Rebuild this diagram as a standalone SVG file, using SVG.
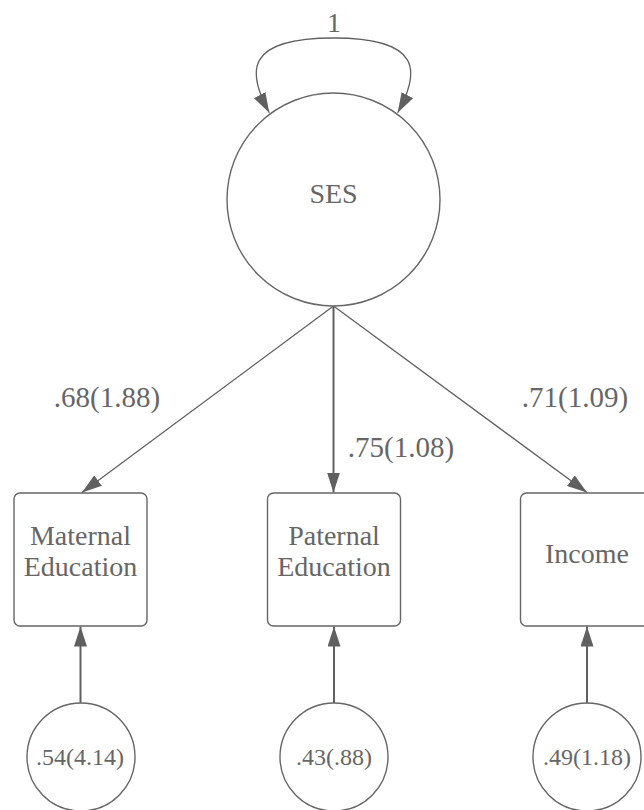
<svg xmlns="http://www.w3.org/2000/svg" width="644" height="810" viewBox="0 0 644 810">
<style>
.bg{fill:#ffffff}
.node{fill:#ffffff;stroke:#666666;stroke-width:1.4}
.t{font-family:"Liberation Serif","DejaVu Serif",serif;fill:#666666;text-anchor:middle}
.big{font-size:28px}
.lab{font-size:29px}
.err{font-size:24px}
.edge{fill:none;stroke:#606060}
.thin{stroke-width:1.3}
.thick{stroke-width:2}
</style>
<defs>
<marker id="ah" viewBox="0 0 20 13" refX="20" refY="6.5" markerWidth="20" markerHeight="13" markerUnits="userSpaceOnUse" orient="auto-start-reverse">
<path d="M0,0 L20,6.5 L0,13 z" fill="#606060"/>
</marker>
</defs>
<rect class="bg" x="0" y="0" width="644" height="810"/>
<g id="connectors">
<path class="edge thin" d="M269.3,112.7 C247,72 244,38 333.5,38 C423,38 420,72 397.7,112.7" marker-start="url(#ah)" marker-end="url(#ah)"/>
<line class="edge thin" x1="333.5" y1="306" x2="82" y2="492.5" marker-end="url(#ah)"/>
<line class="edge thick" x1="333.5" y1="306" x2="333.5" y2="492.5" marker-end="url(#ah)"/>
<line class="edge thin" x1="333.5" y1="306" x2="587" y2="492.5" marker-end="url(#ah)"/>
<line class="edge thick" x1="80.5" y1="703" x2="80.5" y2="626.5" marker-end="url(#ah)"/>
<line class="edge thick" x1="334" y1="703" x2="334" y2="626.5" marker-end="url(#ah)"/>
<line class="edge thick" x1="587" y1="703" x2="587" y2="626.5" marker-end="url(#ah)"/>
<text class="t big" x="334" y="32">1</text>
<text class="t lab" x="107" y="407">.68(1.88)</text>
<text class="t lab" x="401" y="457">.75(1.08)</text>
<text class="t lab" x="575" y="407">.71(1.09)</text>
</g>
<g id="SES">
<circle class="node" cx="333.5" cy="199.5" r="106.5"/>
<text class="t big" x="333.5" y="203">SES</text>
</g>
<g id="MaternalEducation">
<rect class="node" x="14" y="493" width="133" height="133" rx="6"/>
<text class="t big" x="80.5" y="545">Maternal</text>
<text class="t big" x="80.5" y="576">Education</text>
</g>
<g id="PaternalEducation">
<rect class="node" x="267.5" y="493" width="133" height="133" rx="6"/>
<text class="t big" x="334" y="545">Paternal</text>
<text class="t big" x="334" y="576">Education</text>
</g>
<g id="Income">
<rect class="node" x="520.5" y="493" width="133" height="133" rx="6"/>
<text class="t big" x="587" y="563">Income</text>
</g>
<g id="e1">
<circle class="node" cx="81" cy="757" r="54"/>
<text class="t err" x="80" y="765">.54(4.14)</text>
</g>
<g id="e2">
<circle class="node" cx="334" cy="757" r="54"/>
<text class="t err" x="334" y="765">.43(.88)</text>
</g>
<g id="e3">
<circle class="node" cx="587" cy="757" r="54"/>
<text class="t err" x="587" y="765">.49(1.18)</text>
</g>
</svg>
